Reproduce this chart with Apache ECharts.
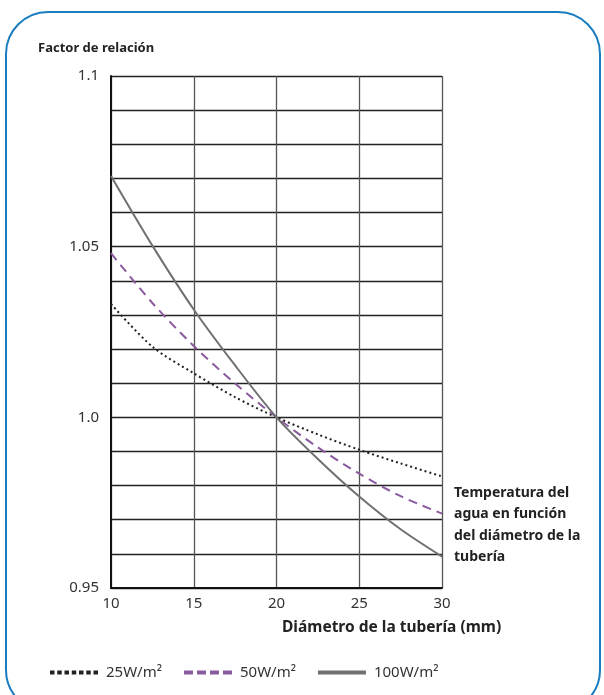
<!DOCTYPE html>
<html>
<head>
<meta charset="utf-8">
<script src="https://cdn.jsdelivr.net/npm/echarts@6/dist/echarts.min.js"></script>
<style>
  html, body { margin: 0; padding: 0; background: #fff; }
  #main { width: 604px; height: 695px; }
</style>
</head>
<body>
<div id="main"></div>
<script>
var chart = echarts.init(document.getElementById('main'));

// diámetro de la tubería (mm)
var diameters = [10, 12.5, 15, 17.5, 20, 22.5, 25, 27.5, 30];
// factor de relación por potencia
var w25 = [1.0332, 1.0207, 1.0129, 1.0059, 1.0, 0.995, 0.9905, 0.9865, 0.9827];
var w50 = [1.0481, 1.0335, 1.0209, 1.0099, 1.0, 0.9912, 0.9835, 0.9769, 0.9718];
var w100 = [1.0707, 1.0503, 1.0316, 1.0152, 1.0, 0.9878, 0.9768, 0.9672, 0.9592];
var seriesNames = ['25W/m²', '50W/m²', '100W/m²'];
var yLabels = { 95: '0.95', 100: '1.0', 105: '1.05', 110: '1.1' };

var FONT = '"Noto Sans", "Open Sans", sans-serif';

function pairs(vals) {
    return diameters.map(function (d, i) { return [d, vals[i]]; });
}

var option = {
    animation: false,
    textStyle: { fontFamily: FONT },
    title: {
        text: 'Factor de relación',
        left: 33,
        top: 37,
        textStyle: { fontSize: 13, fontWeight: 'bold', color: '#222', fontFamily: FONT }
    },
    grid: { left: 111, top: 76, right: 162, bottom: 107 },
    xAxis: {
        type: 'value',
        min: 10,
        max: 30,
        interval: 5,
        axisLine: { show: true, lineStyle: { color: '#111', width: 2 } },
        axisTick: { show: false },
        axisLabel: { fontSize: 15, color: '#333', margin: 8, fontFamily: FONT },
        splitLine: { show: true, lineStyle: { color: '#555', width: 1.3 } }
    },
    yAxis: {
        type: 'value',
        min: 0.95,
        max: 1.1,
        interval: 0.01,
        axisLine: { show: true, lineStyle: { color: '#111', width: 2 } },
        axisTick: { show: false },
        axisLabel: {
            fontSize: 15, color: '#333', margin: 12, fontFamily: FONT,
            formatter: function (v) {
                var k = Math.round(v * 100);
                return yLabels[k] || '';
            }
        },
        splitLine: { show: true, lineStyle: { color: '#222', width: 1.3 } }
    },
    legend: {
        top: 665,
        left: 50,
        padding: 0,
        itemGap: 22,
        itemWidth: 48,
        itemHeight: 4,
        textStyle: { fontSize: 15, color: '#333', fontFamily: FONT, padding: [0, 0, 0, 3] },
        data: [
            {
                name: seriesNames[0],
                icon: 'path://M0,0h4.5v4h-4.5z M7.25,0h4.5v4h-4.5z M14.5,0h4.5v4h-4.5z M21.75,0h4.5v4h-4.5z M29,0h4.5v4h-4.5z M36.25,0h4.5v4h-4.5z M43.5,0h4.5v4h-4.5z',
                itemStyle: { color: '#222' }
            },
            {
                name: seriesNames[1],
                icon: 'path://M0,0h9v4h-9z M13,0h9v4h-9z M26,0h9v4h-9z M39,0h9v4h-9z',
                itemStyle: { color: '#8a5a9e' }
            },
            {
                name: seriesNames[2],
                icon: 'path://M0,0h48v4h-48z',
                itemStyle: { color: '#707070' }
            }
        ]
    },
    graphic: [
        {
            type: 'rect',
            shape: { x: 6, y: 12, width: 594, height: 700, r: 42 },
            style: { fill: 'none', stroke: '#1a7dc0', lineWidth: 2 },
            z: -10
        },
        {
            type: 'text',
            left: 282,
            top: 620,
            style: {
                text: 'Diámetro de la tubería (mm)',
                font: 'bold 15.5px ' + FONT,
                fill: '#222'
            }
        },
        {
            type: 'text',
            left: 454,
            top: 482,
            style: {
                text: 'Temperatura del\nagua en función\ndel diámetro de la\ntubería',
                font: 'bold 14px ' + FONT,
                lineHeight: 21.5,
                fill: '#222'
            }
        }
    ],
    series: [
        {
            name: seriesNames[0],
            type: 'line',
            smooth: 0.3,
            symbol: 'none',
            data: pairs(w25),
            lineStyle: { color: '#222', width: 2, type: [2, 3] },
            itemStyle: { color: '#222' },
            z: 5
        },
        {
            name: seriesNames[1],
            type: 'line',
            smooth: 0.3,
            symbol: 'none',
            data: pairs(w50),
            lineStyle: { color: '#8a5a9e', width: 2, type: [9, 6] },
            itemStyle: { color: '#8a5a9e' },
            z: 5
        },
        {
            name: seriesNames[2],
            type: 'line',
            smooth: 0.3,
            symbol: 'none',
            data: pairs(w100),
            lineStyle: { color: '#707070', width: 2 },
            itemStyle: { color: '#707070' },
            z: 5
        }
    ]
};

chart.setOption(option);
</script>
</body>
</html>
